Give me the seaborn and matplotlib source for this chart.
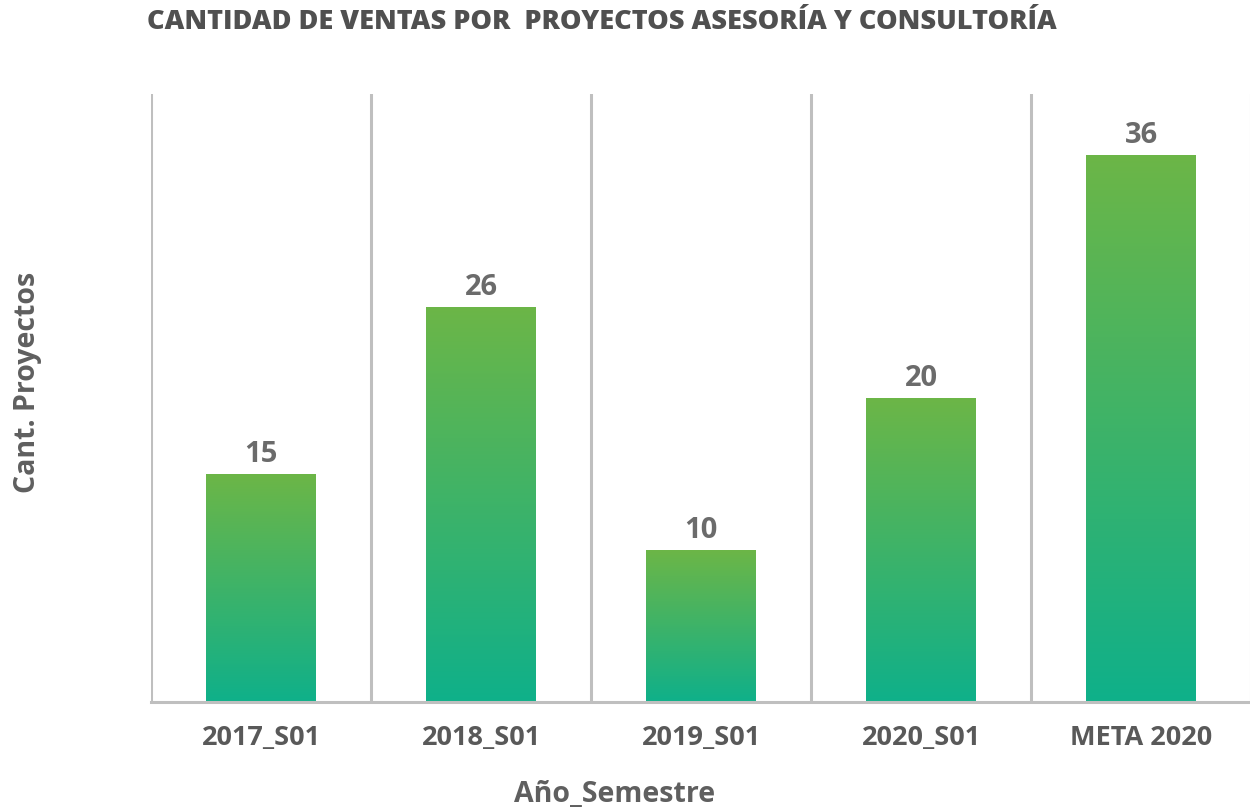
import numpy as np
import pandas as pd
import matplotlib
matplotlib.use("Agg")
import matplotlib.pyplot as plt
import seaborn as sns
from matplotlib.colors import LinearSegmentedColormap

categories = ["2017_S01", "2018_S01", "2019_S01", "2020_S01", "META 2020"]
values = [15, 26, 10, 20, 36]
title = "CANTIDAD DE VENTAS POR  PROYECTOS ASESORÍA Y CONSULTORÍA"
xlabel = "Año_Semestre"
ylabel = "Cant. Proyectos"

sns.set_theme(style="white")
plt.rcParams['font.family'] = ['Open Sans', 'DejaVu Sans']

df = pd.DataFrame({"cat": categories, "val": values})

fig = plt.figure(figsize=(12.5, 8.12), dpi=100)
ax = fig.add_axes([151/1250, 1-703/812, 1100/1250, (703-95)/812])

sns.barplot(data=df, x="cat", y="val", ax=ax, width=0.5, color="#3cb36a", edgecolor="none")
ax.set_xlim(-0.5, 4.5)
ax.set_ylim(0, 40)

cmap = LinearSegmentedColormap.from_list("g", ["#0fb08a", "#6cb647"])
grad = np.linspace(0, 1, 256).reshape(-1, 1)
for p in ax.patches:
    x0, y0 = p.get_x(), p.get_y()
    w, h = p.get_width(), p.get_height()
    im = ax.imshow(grad, cmap=cmap, origin="lower", aspect="auto",
                   extent=[x0, x0 + w, y0, y0 + h], zorder=p.get_zorder() + 0.1)
    im.set_clip_path(p)
    ax.text(x0 + w/2, y0 + h + 0.4, f"{int(h)}", ha="center", va="bottom",
            fontsize=21, fontweight="bold", color="#6b6b6b")
ax.set_xlim(-0.5, 4.5)
ax.set_ylim(0, 40)

for b in np.arange(-0.5, 5.0, 1.0):
    ax.axvline(b, color="#bfbfbf", lw=2.2, zorder=0.5)

for s in ["top", "right", "left"]:
    ax.spines[s].set_visible(False)
ax.spines["bottom"].set_color("#bfbfbf")
ax.spines["bottom"].set_linewidth(2.2)
ax.set_yticks([])
ax.tick_params(axis="x", length=0, pad=16, labelsize=19.5, labelcolor="#595959")
for t in ax.get_xticklabels():
    t.set_fontweight("bold")
ax.set_xlabel("")
ax.set_ylabel("")

fig.text(28/1250, 1-382/812, ylabel, rotation=90, ha="center", va="center",
         fontsize=20.5, fontweight="bold", color="#5f5f5f")
fig.text(615/1250, 1-795/812, xlabel, ha="center", va="center",
         fontsize=20.5, fontweight="bold", color="#5f5f5f")
fig.text(602/1250, 1-22/812, title, ha="center", va="center",
         fontsize=19.5, fontweight="heavy", color="#505050")

fig.savefig("out.png", dpi=100)
